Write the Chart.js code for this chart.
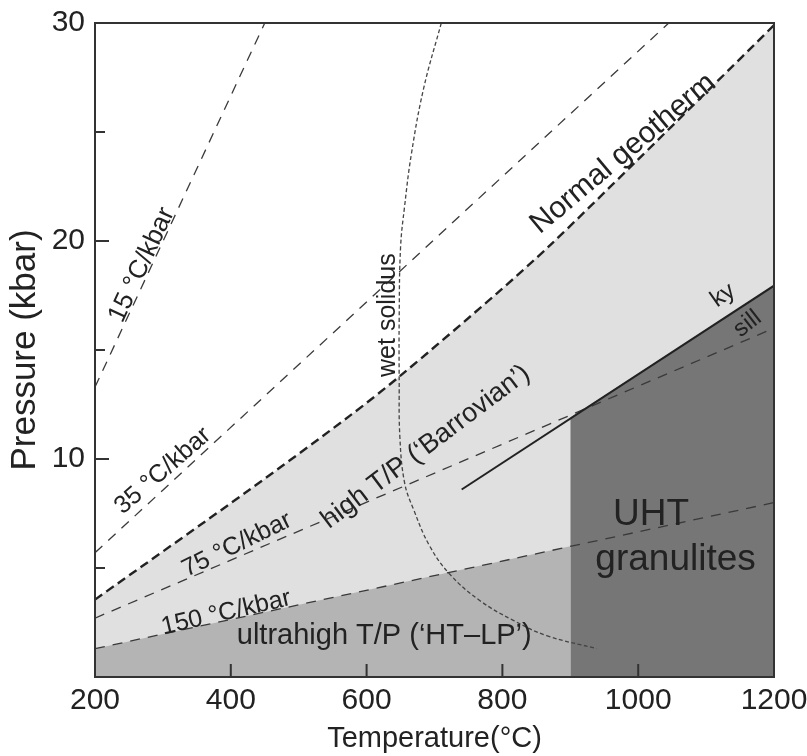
<!DOCTYPE html>
<html>
<head>
<meta charset="utf-8">
<title>Metamorphic P-T regimes</title>
<script src="https://cdn.jsdelivr.net/npm/chart.js@4.4.1/dist/chart.umd.min.js"></script>
<style>
  html, body { margin: 0; padding: 0; background: #fff; }
  #chart { display: block; }
</style>
</head>
<body>
<canvas id="chart" width="807" height="756"></canvas>
<script>
// [temperature °C, pressure kbar]
const geotherm15 = [[200, 13.3], [450, 30]];
const geotherm35 = [[200, 5.7], [1045, 30]];
const geotherm75 = [[200, 2.7], [1200, 16]];
const geotherm150 = [[200, 1.3], [1200, 8]];
const normalGeotherm = [[200, 3.55], [428, 8.6], [576, 12.0], [649, 13.8], [792, 17.6], [870, 19.8], [992, 23.5], [1106, 27.0], [1200, 29.9]];
const wetSolidus = [[710, 30], [684, 27], [666, 24], [656, 21.6], [650, 19.7], [648, 16.5], [648, 13.6], [649, 11], [656, 8.9], [669, 7.7], [693, 6], [723, 4.7], [767, 3.5], [816, 2.6], [865, 1.9], [939, 1.3]];
const kySill = [[740, 8.6], [1200, 17.95]];
const htlpTop = [[200, 1.3], [900, 6]];
const uhtTop = [[900, 11.9], [1200, 17.95]];

const xTicks = [200, 400, 600, 800, 1000, 1200];
const yTicks = [10, 20, 30];
const yMinorTicks = [5, 15, 25];

// text placed in data space
const notes = [
  { text: '15 °C/kbar', t: 269, p: 18.9, angle: -65, size: 26 },
  { text: '35 °C/kbar', t: 300, p: 9.45, angle: -41, size: 25 },
  { text: 'Normal geotherm', t: 978, p: 24.0, angle: -40, size: 30 },
  { text: 'wet solidus', t: 631, p: 16.6, angle: -90, size: 25 },
  { text: 'high T/P (‘Barrovian’)', t: 687, p: 10.55, angle: -37, size: 27 },
  { text: '75 °C/kbar', t: 409, p: 6.06, angle: -26, size: 25 },
  { text: '150 °C/kbar', t: 393, p: 2.94, angle: -13, size: 25 },
  { text: 'ultrahigh T/P (‘HT–LP’)', t: 626, p: 1.88, angle: 0, size: 29 },
  { text: 'UHT', t: 1019, p: 7.43, angle: 0, size: 37 },
  { text: 'granulites', t: 1055, p: 5.37, angle: 0, size: 37 },
  { text: 'ky', t: 1125, p: 17.5, angle: -35, size: 24 },
  { text: 'sill', t: 1161, p: 16.2, angle: -38, size: 24 }
];

const FONT = '"Liberation Sans", Arial, sans-serif';
const pts = arr => arr.map(([x, y]) => ({ x, y }));

function area(data, color, order, tension) {
  return { data: pts(data), showLine: true, fill: 'origin', backgroundColor: color,
    borderWidth: 0, pointRadius: 0, tension: tension || 0, order: order };
}
function curve(data, color, width, dash, order, tension) {
  return { data: pts(data), showLine: true, fill: false, borderColor: color,
    borderWidth: width, borderDash: dash, pointRadius: 0, tension: tension || 0, order: order };
}

const frameAndTicks = {
  id: 'frameAndTicks',
  afterDatasetsDraw(chart) {
    const { ctx, chartArea: a, scales: { x, y } } = chart;
    ctx.save();
    ctx.strokeStyle = '#333';
    ctx.lineWidth = 2;
    ctx.beginPath();
    xTicks.forEach(v => {
      if (v <= x.min || v >= x.max) return;
      const px = x.getPixelForValue(v);
      ctx.moveTo(px, a.bottom); ctx.lineTo(px, a.bottom - 13);
    });
    yTicks.forEach(v => {
      if (v <= y.min || v >= y.max) return;
      const py = y.getPixelForValue(v);
      ctx.moveTo(a.left, py); ctx.lineTo(a.left + 14, py);
    });
    yMinorTicks.forEach(v => {
      const py = y.getPixelForValue(v);
      ctx.moveTo(a.left, py); ctx.lineTo(a.left + 10, py);
    });
    ctx.stroke();
    ctx.strokeRect(a.left, a.top, a.right - a.left, a.bottom - a.top);
    ctx.restore();
  }
};

const annotations = {
  id: 'annotations',
  afterDatasetsDraw(chart) {
    const { ctx, scales: { x, y } } = chart;
    ctx.save();
    ctx.fillStyle = '#222';
    ctx.textAlign = 'center';
    ctx.textBaseline = 'middle';
    notes.forEach(n => {
      ctx.save();
      ctx.translate(x.getPixelForValue(n.t), y.getPixelForValue(n.p));
      ctx.rotate(n.angle * Math.PI / 180);
      ctx.font = n.size + 'px ' + FONT;
      ctx.fillText(n.text, 0, 0);
      ctx.restore();
    });
    ctx.restore();
  }
};

new Chart(document.getElementById('chart'), {
  type: 'scatter',
  data: {
    datasets: [
      area(normalGeotherm, '#e0e0e0', 30, 0.3),
      area(htlpTop, '#b4b4b4', 29),
      area(uhtTop, '#767676', 28),
      curve(geotherm15, '#3a3a3a', 1.3, [10, 8], 5),
      curve(geotherm35, '#3a3a3a', 1.3, [10, 8], 5),
      curve(geotherm75, '#3a3a3a', 1.3, [10, 8], 5),
      curve(geotherm150, '#3a3a3a', 1.3, [10, 8], 5),
      curve(wetSolidus, '#444', 1.3, [4, 2.5], 4, 0.4),
      curve(kySill, '#222', 2, [], 3),
      curve(normalGeotherm, '#222', 2.4, [9, 5], 2, 0.3)
    ]
  },
  options: {
    responsive: false,
    animation: false,
    layout: { padding: { top: 23, right: 33, left: 0, bottom: 0 } },
    plugins: { legend: { display: false }, tooltip: { enabled: false } },
    scales: {
      x: {
        type: 'linear', min: 200, max: 1200,
        afterBuildTicks: s => { s.ticks = xTicks.map(v => ({ value: v })); },
        afterFit: s => { s.height = 79; s.paddingLeft = 0; s.paddingRight = 0; },
        grid: { display: false, drawTicks: false },
        border: { display: false },
        ticks: { padding: 6, color: '#222', font: { family: FONT, size: 30 }, callback: v => String(v) },
        title: { display: true, text: 'Temperature(°C)', color: '#222', padding: { top: 0, bottom: 0 },
          font: { family: FONT, size: 29 } }
      },
      y: {
        type: 'linear', min: 0, max: 30,
        afterBuildTicks: s => { s.ticks = yTicks.map(v => ({ value: v })); },
        afterFit: s => { s.width = 95; s.paddingTop = 0; s.paddingBottom = 0; },
        grid: { display: false, drawTicks: false },
        border: { display: false },
        ticks: { padding: 10, color: '#222', font: { family: FONT, size: 30 }, callback: v => String(v) },
        title: { display: true, text: 'Pressure (kbar)', color: '#222', padding: { top: 4, bottom: 0 },
          font: { family: FONT, size: 35 } }
      }
    }
  },
  plugins: [frameAndTicks, annotations]
});
</script>
</body>
</html>
